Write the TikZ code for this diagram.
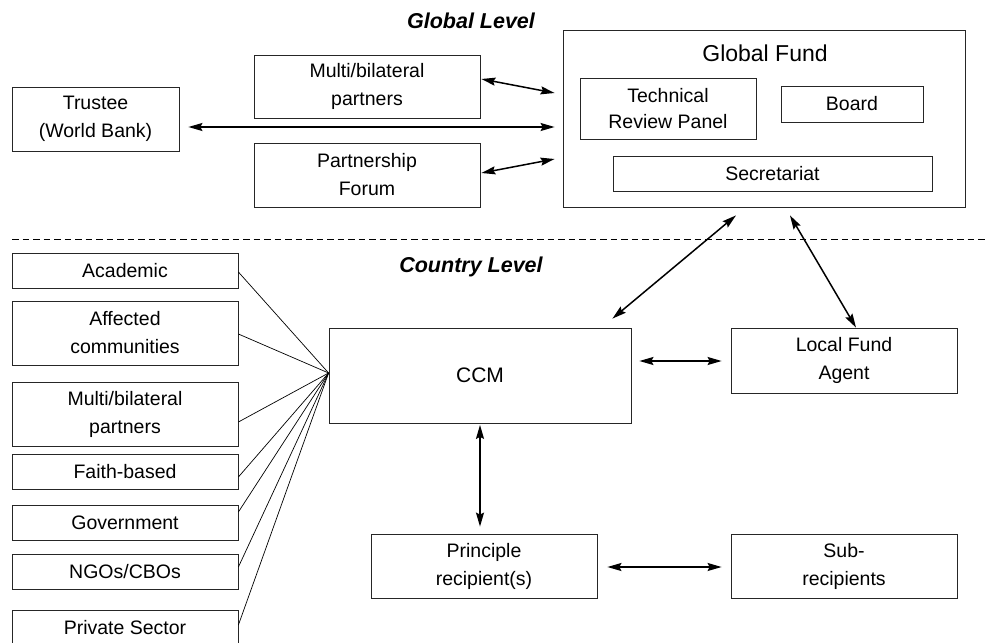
\documentclass[tikz,border=0pt]{standalone}
\usepackage{fontspec}
\setmainfont{Liberation Sans}
\usetikzlibrary{arrows.meta,calc}
\begin{document}
\begin{tikzpicture}[x=1pt,y=-1pt,
  box/.style={draw=black!85,line width=0.8pt,inner sep=0pt,align=center,
    font=\fontsize{19.5}{28}\selectfont},
  title/.style={font=\fontsize{21.5}{26}\selectfont\bfseries\itshape},
  arr/.style={line width=1.5pt,{Stealth[length=14pt,width=8pt,inset=2pt]}-{Stealth[length=14pt,width=8pt,inset=2pt]}},
  fan/.style={line width=0.7pt}]
\useasboundingbox (0,0) rectangle (986,643);
% titles
\node[title] (gl) at (471,21) {Global Level};
\node[title] (cl) at (471,267) {Country Level};
% dashed separator
\coordinate (dl) at (12,239.5);
\coordinate (dr) at (986,239.5);
\draw[dashed,dash pattern=on 6.5pt off 4pt,line width=0.8pt] (dl) -- (dr);
% global level
\node[box,minimum width=167,minimum height=64] (trustee) at (95.5,119) {Trustee\\(World Bank)};
\node[box,minimum width=226,minimum height=63] (mb) at (367,86.5) {Multi/bilateral\\partners};
\node[box,minimum width=226,minimum height=64] (forum) at (367,175) {Partnership\\Forum};
\node[box,minimum width=402,minimum height=177] (gf) at (764,118.5) {};
\node[font=\fontsize{23}{28}\selectfont] (gft) at (765,53) {Global Fund};
\node[box,minimum width=176,minimum height=61,font=\fontsize{19.5}{26}\selectfont] (trp) at (668,108.5) {Technical\\Review Panel};
\node[box,minimum width=142,minimum height=36] (board) at (852,104) {Board};
\node[box,minimum width=319,minimum height=35] (sec) at (772.5,173.5) {Secretariat};
% country level
\node[box,minimum width=226,minimum height=35] (acad) at (125,270.5) {Academic};
\node[box,minimum width=226,minimum height=64] (aff) at (125,333) {Affected\\communities};
\node[box,minimum width=226,minimum height=64] (mbl) at (125,414) {Multi/bilateral\\partners};
\node[box,minimum width=226,minimum height=35] (faith) at (125,471.5) {Faith-based};
\node[box,minimum width=226,minimum height=35] (gov) at (125,522.5) {Government};
\node[box,minimum width=226,minimum height=35] (ngo) at (125,571.5) {NGOs/CBOs};
\node[box,minimum width=226,minimum height=35] (priv) at (125,627.5) {Private Sector};
\node[box,minimum width=302,minimum height=95,font=\fontsize{21}{28}\selectfont] (ccm) at (480,375.5) {CCM};
\node[box,minimum width=226,minimum height=65] (lfa) at (844,360.5) {Local Fund\\Agent};
\node[box,minimum width=226,minimum height=64] (pr) at (484,566) {Principle\\recipient(s)};
\node[box,minimum width=226,minimum height=64] (sub) at (844,566) {Sub-\\recipients};
% fan lines
\coordinate (fp) at ($(ccm.west)+(0,-2.5)$);
\draw[fan] ($(acad.east)+(0,1.5)$) -- (fp);
\draw[fan] ($(aff.east)+(0,1)$) -- (fp);
\draw[fan] ($(mbl.east)+(0,8)$) -- (fp);
\draw[fan] ($(faith.east)+(0,5.5)$) -- (fp);
\draw[fan] ($(gov.east)+(0,-10.5)$) -- (fp);
\draw[fan] ($(ngo.east)+(0,-4.5)$) -- (fp);
\draw[fan] ($(priv.east)+(0,-2.5)$) -- (fp);
% arrows
\draw[arr] ($(trustee.east)+(9,8)$) -- ($(gf.west)+(-8,8.5)$);
\draw[arr] ($(mb.east)+(1,-7.5)$) -- ($(gf.west)+(-8,-25.5)$);
\draw[arr] ($(forum.east)+(1,-2)$) -- ($(gf.west)+(-8,40.5)$);
\draw[arr] ($(gf.south)+(-28,8)$) -- ($(ccm.north east)+(-19,-9)$);
\draw[arr] ($(gf.south)+(26,8)$) -- ($(lfa.north)+(12,0)$);
\draw[arr] ($(ccm.east)+(8,-14.5)$) -- ($(lfa.west)+(-9,0.5)$);
\draw[arr] ($(ccm.south)+(0,1.5)$) -- ($(pr.north)+(-4,-7)$);
\draw[arr] ($(pr.east)+(10,1)$) -- ($(sub.west)+(-9,1)$);
\end{tikzpicture}
\end{document}
